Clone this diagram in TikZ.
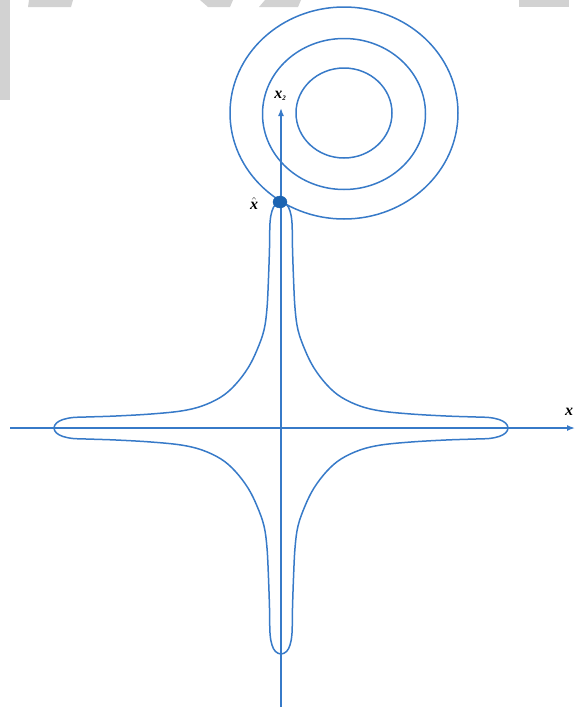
\documentclass[tikz,border=0pt]{standalone}
\usepackage{fontspec}
\setmainfont{Liberation Serif}
\usetikzlibrary{arrows.meta,shapes.geometric}
\definecolor{lineblue}{RGB}{55,122,200}
\definecolor{dotblue}{RGB}{28,100,178}
\definecolor{wm}{RGB}{210,210,210}
\begin{document}
\begin{tikzpicture}[x=1pt,y=-1pt,
  curve/.style={draw=lineblue,line width=1.5pt},
  axis/.style={draw=lineblue,line width=1.5pt,-{Latex[length=8pt,width=6pt]}},
  lbl/.style={inner sep=0pt,font=\fontsize{16}{18}\selectfont\bfseries\itshape}]
\useasboundingbox (0,0) rectangle (575,707);
% watermark fragments
\fill[wm] (0,0) rectangle (9.5,100);
\fill[wm] (29,0) -- (73,0) -- (71,7) -- (28,7) -- cycle;
\fill[wm] (200,0) -- (233,0) -- (230,7) -- (208,7) -- cycle;
\fill[wm] (265,0) -- (301,0) -- (298,7) -- (259,7) -- cycle;
\fill[wm] (519,0) rectangle (569,7);
% level ellipses of the objective
\draw[curve] (344,113) ellipse [x radius=48, y radius=45];
\draw[curve] (344,114) ellipse [x radius=81.5, y radius=75.5];
\draw[curve] (344,113) ellipse [x radius=114, y radius=106];
% cross-shaped constraint contour
\begin{scope}[shift={(281,428)},yscale=-1]
\draw[curve] plot[smooth cycle,tension=0.6] coordinates {
(0,226) (5.5,223.5) (9,217) (11,205) (11.5,180) (12.5,150) (14,120) (17,98) (24,78) (33,60) (46,43) (60,31) (79,22) (100,17) (130,14) (165,12) (195,11) (208,10.5) (218,8.5) (224.5,5) (227,0)
(224.5,-5) (218,-8.5) (208,-10.5) (195,-11) (165,-12) (130,-14) (100,-17) (79,-22) (60,-31) (46,-43) (33,-60) (24,-78) (17,-98) (14,-120) (12.5,-150) (11.5,-180) (11,-205) (9,-217) (5.5,-223.5) (0,-226)
(-5.5,-223.5) (-9,-217) (-11,-205) (-11.5,-180) (-12.5,-150) (-14,-120) (-17,-98) (-24,-78) (-33,-60) (-46,-43) (-60,-31) (-79,-22) (-100,-17) (-130,-14) (-165,-12) (-195,-11) (-208,-10.5) (-218,-8.5) (-224.5,-5) (-227,0)
(-224.5,5) (-218,8.5) (-208,10.5) (-195,11) (-165,12) (-130,14) (-100,17) (-79,22) (-60,31) (-46,43) (-33,60) (-24,78) (-17,98) (-14,120) (-12.5,150) (-11.5,180) (-11,205) (-9,217) (-5.5,223.5)};
\end{scope}
% axes
\coordinate (xl) at (10,428);
\coordinate (xr) at (575,428);
\coordinate (yb) at (281,707);
\coordinate (yt) at (281,108);
\draw[axis] (xl) -- (xr);
\draw[axis] (yb) -- (yt);
% optimum point
\node[ellipse,draw=dotblue,fill=dotblue,minimum width=14pt,minimum height=12pt,inner sep=0pt] (opt) at (280,202) {};
% labels
\node[lbl] (lx2) at (280,96) {x\raisebox{-2.5pt}{\fontsize{7}{8}\selectfont 2}};
\node[lbl] (lxhat) at (254,203) {$\hat{\textbf{\textit{x}}}$};
\node[lbl,anchor=west] (lx1) at (565,412) {x};
\end{tikzpicture}
\end{document}
